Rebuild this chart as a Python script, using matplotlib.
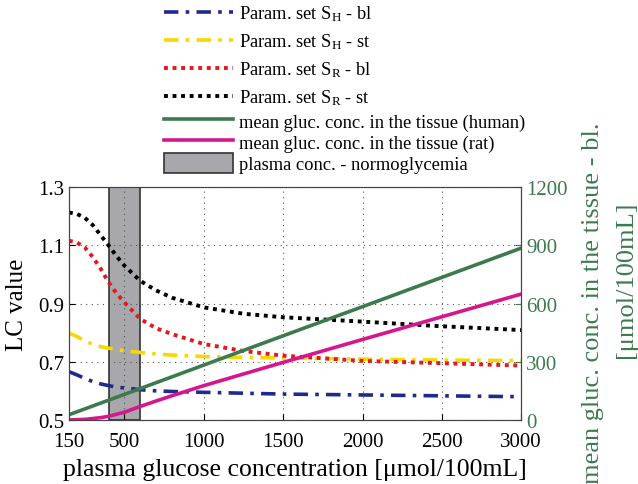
import matplotlib
matplotlib.use("Agg")
import matplotlib.pyplot as plt
from matplotlib.patches import Patch

plt.rcParams['font.family'] = ['Liberation Serif', 'DejaVu Serif']
plt.rcParams['mathtext.fontset'] = 'custom'
plt.rcParams['mathtext.rm'] = 'Liberation Serif'
plt.rcParams['mathtext.it'] = 'Liberation Serif:italic'

# ---- data ----
x_lc = [150, 200, 250, 300, 350, 400, 450, 500, 600, 700, 800, 1000, 1250, 1500, 2000, 2500, 3000]
sh_bl = [0.666, 0.655, 0.643, 0.632, 0.624, 0.618, 0.613, 0.610, 0.604, 0.600, 0.598, 0.595, 0.592, 0.589, 0.586, 0.583, 0.580]
sh_st = [0.799, 0.787, 0.772, 0.760, 0.752, 0.747, 0.742, 0.738, 0.732, 0.727, 0.723, 0.718, 0.715, 0.713, 0.709, 0.706, 0.704]
sr_bl = [1.116, 1.110, 1.093, 1.060, 1.020, 0.973, 0.935, 0.904, 0.847, 0.815, 0.795, 0.761, 0.737, 0.721, 0.703, 0.695, 0.687]
sr_st = [1.213, 1.208, 1.195, 1.170, 1.135, 1.100, 1.063, 1.030, 0.978, 0.945, 0.920, 0.887, 0.865, 0.853, 0.838, 0.822, 0.809]

x_human = [150, 500, 1000, 1500, 2000, 2500, 3000]
human = [27, 132, 283, 434, 584, 735, 886]

x_rat = [150, 250, 350, 400, 500, 600, 700, 800, 1000, 1500, 2000, 2500, 3000]
rat = [0, 3, 12, 19, 40, 70, 98, 125, 177, 297, 415, 532, 649]

norm_band = (400, 600)

xticks = [150, 500, 1000, 1500, 2000, 2500, 3000]
yticks_left = [0.5, 0.7, 0.9, 1.1, 1.3]
yticks_left_labels = ['0.5', '0.7', '0.9', '1.1', '1.3']
yticks_right = [0, 300, 600, 900, 1200]

green = '#3d7a4f'
pink = '#d4178c'
navy = '#1f2a8c'
yellow = '#f7d900'
red = '#e3191e'
band_color = '#a8a7ab'

fig = plt.figure(figsize=(6.38, 4.85), dpi=100)
ax = fig.add_axes([0.108, 0.132, 0.709, 0.480])
ax2 = ax.twinx()

ax.axvspan(norm_band[0], norm_band[1], facecolor=band_color, edgecolor='#333333', lw=1.2, zorder=1)

l1, = ax.plot(x_lc, sh_bl, color=navy, lw=2.6, ls=(0, (4, 2, 1, 2)), label=r'Param. set S$_\mathrm{H}$ - bl', zorder=3)
l2, = ax.plot(x_lc, sh_st, color=yellow, lw=2.6, ls=(0, (4, 2, 1, 2)), label=r'Param. set S$_\mathrm{H}$ - st', zorder=3)
l3, = ax.plot(x_lc, sr_bl, color=red, lw=2.8, ls=(0, (1, 1.2)), label=r'Param. set S$_\mathrm{R}$ - bl', zorder=3)
l4, = ax.plot(x_lc, sr_st, color='black', lw=2.8, ls=(0, (1, 1.2)), label=r'Param. set S$_\mathrm{R}$ - st', zorder=3)
l5, = ax2.plot(x_human, human, color=green, lw=2.6, label='mean gluc. conc. in the tissue (human)')
l6, = ax2.plot(x_rat, rat, color=pink, lw=2.6, label='mean gluc. conc. in the tissue (rat)')
p = Patch(facecolor=band_color, edgecolor='#333333', lw=1.2, label='plasma conc. - normoglycemia')

ax.set_xlim(150, 3000)
ax.set_ylim(0.5, 1.3)
ax2.set_ylim(0, 1200)
ax.set_xticks(xticks)
ax.set_yticks(yticks_left)
ax.set_yticklabels(yticks_left_labels)
ax2.set_yticks(yticks_right)
ax.grid(True, color='#555555', ls=(0, (1, 4)), lw=0.8)
ax.tick_params(axis='both', labelsize=15, direction='in', length=4)
ax.tick_params(axis='x', pad=9)
ax2.tick_params(labelsize=15, direction='in', length=4, colors=green)
for s in ax.spines.values():
    s.set_color('#444444')
for s in ax2.spines.values():
    s.set_color('#444444')

ax.set_xlabel('plasma glucose concentration [μmol/100mL]', fontsize=18.5, labelpad=5)
ax.set_ylabel('LC value', fontsize=18, labelpad=7)

fig.text(593 / 638, 1 - 303 / 485, 'mean gluc. conc. in the tissue - bl.', rotation=90,
         ha='center', va='center', fontsize=19, color=green)
fig.text(626 / 638, 1 - 280 / 485, '[μmol/100mL]', rotation=90,
         ha='center', va='center', fontsize=19, color=green)

fig.legend(handles=[l1, l2, l3, l4], loc='upper left', bbox_to_anchor=(0.246, 1.006),
           frameon=False, fontsize=13.3, handlelength=3.7, handletextpad=0.33, labelspacing=0.45,
           borderaxespad=0)
fig.legend(handles=[l5, l6, p], loc='upper left', bbox_to_anchor=(0.246, 0.784),
           frameon=False, fontsize=13.3, handlelength=3.7, handletextpad=0.33, labelspacing=0.05,
           handleheight=1.25, borderaxespad=0)

fig.savefig('out.png', dpi=100)
